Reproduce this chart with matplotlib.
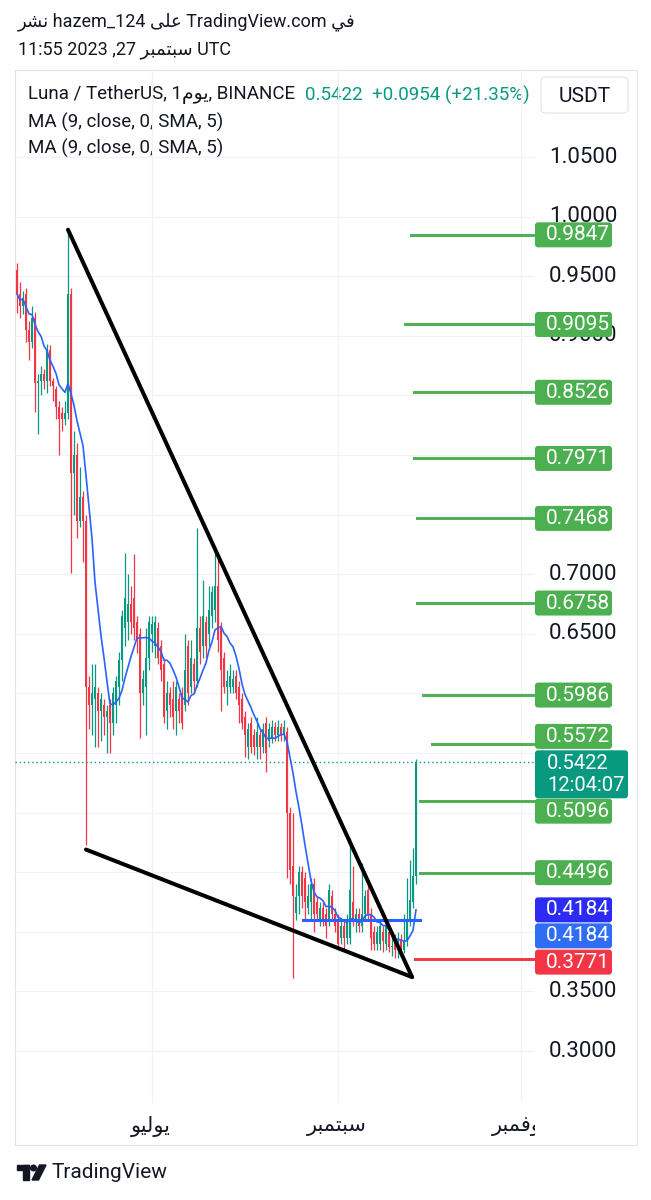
import numpy as np
import pandas as pd
import matplotlib
matplotlib.use("Agg")
import matplotlib.pyplot as plt
from matplotlib.patches import Rectangle, FancyBboxPatch, Polygon, Circle

plt.rcParams['font.family'] = ['Roboto', 'DejaVu Sans']

# LUNA / USDT daily candles (Binance), 17 May - 27 Sep 2023
dates = pd.date_range("2023-05-17", "2023-09-27", freq="D")
opens = [0.955, 0.935, 0.925, 0.935, 0.905, 0.895, 0.915, 0.860, 0.862, 0.868,
         0.862, 0.888, 0.862, 0.855, 0.840, 0.835, 0.830, 0.835, 0.935, 0.785,
         0.800, 0.745, 0.765, 0.745, 0.605, 0.590, 0.595, 0.600, 0.585, 0.590,
         0.580, 0.590, 0.575, 0.590, 0.605, 0.628, 0.655, 0.660, 0.675, 0.680,
         0.660, 0.650, 0.600, 0.605, 0.630, 0.650, 0.640, 0.655, 0.640, 0.625,
         0.585, 0.600, 0.595, 0.585, 0.595, 0.600, 0.590, 0.640, 0.605, 0.625,
         0.610, 0.655, 0.640, 0.660, 0.650, 0.665, 0.670, 0.690, 0.655, 0.630,
         0.605, 0.605, 0.605, 0.615, 0.605, 0.595, 0.580, 0.555, 0.575, 0.565,
         0.555, 0.565, 0.555, 0.575, 0.560, 0.562, 0.572, 0.565, 0.572, 0.565,
         0.568, 0.500, 0.455, 0.416, 0.430, 0.450, 0.445, 0.420, 0.425, 0.440,
         0.425, 0.410, 0.420, 0.415, 0.410, 0.430, 0.415, 0.410, 0.395, 0.405,
         0.395, 0.395, 0.425, 0.410, 0.415, 0.405, 0.415, 0.435, 0.415, 0.400,
         0.390, 0.390, 0.400, 0.390, 0.400, 0.387, 0.392, 0.385, 0.392, 0.385,
         0.392, 0.410, 0.425, 0.4468]
highs = [0.961, 0.945, 0.938, 0.940, 0.912, 0.925, 0.920, 0.868, 0.875, 0.872,
         0.893, 0.892, 0.865, 0.858, 0.845, 0.840, 0.845, 0.989, 0.940, 0.820,
         0.810, 0.790, 0.770, 0.750, 0.615, 0.625, 0.625, 0.605, 0.600, 0.595,
         0.590, 0.595, 0.605, 0.615, 0.635, 0.670, 0.718, 0.700, 0.690, 0.717,
         0.665, 0.655, 0.620, 0.655, 0.665, 0.665, 0.665, 0.660, 0.645, 0.630,
         0.610, 0.605, 0.610, 0.610, 0.600, 0.605, 0.650, 0.645, 0.645, 0.630,
         0.739, 0.665, 0.695, 0.665, 0.690, 0.690, 0.720, 0.718, 0.660, 0.635,
         0.620, 0.625, 0.620, 0.620, 0.610, 0.600, 0.585, 0.575, 0.580, 0.570,
         0.580, 0.570, 0.575, 0.580, 0.575, 0.578, 0.576, 0.578, 0.575, 0.578,
         0.572, 0.505, 0.500, 0.440, 0.455, 0.455, 0.450, 0.440, 0.445, 0.445,
         0.430, 0.425, 0.425, 0.420, 0.440, 0.435, 0.420, 0.415, 0.410, 0.410,
         0.415, 0.479, 0.455, 0.420, 0.420, 0.458, 0.435, 0.440, 0.420, 0.405,
         0.405, 0.410, 0.405, 0.410, 0.405, 0.400, 0.398, 0.400, 0.398, 0.415,
         0.445, 0.460, 0.470, 0.545]
lows = [0.919, 0.915, 0.918, 0.895, 0.880, 0.890, 0.836, 0.818, 0.850, 0.855,
        0.852, 0.858, 0.845, 0.830, 0.800, 0.820, 0.825, 0.830, 0.701, 0.750,
        0.730, 0.740, 0.710, 0.473, 0.570, 0.565, 0.555, 0.555, 0.560, 0.565,
        0.550, 0.550, 0.565, 0.575, 0.590, 0.610, 0.640, 0.645, 0.650, 0.645,
        0.634, 0.563, 0.590, 0.565, 0.620, 0.635, 0.630, 0.625, 0.610, 0.575,
        0.570, 0.580, 0.570, 0.565, 0.575, 0.570, 0.585, 0.590, 0.600, 0.600,
        0.605, 0.625, 0.630, 0.630, 0.640, 0.655, 0.660, 0.635, 0.585, 0.600,
        0.590, 0.600, 0.600, 0.595, 0.575, 0.570, 0.547, 0.545, 0.550, 0.548,
        0.545, 0.545, 0.550, 0.534, 0.555, 0.558, 0.560, 0.560, 0.560, 0.560,
        0.445, 0.440, 0.361, 0.410, 0.415, 0.420, 0.410, 0.415, 0.410, 0.400,
        0.410, 0.405, 0.405, 0.395, 0.405, 0.410, 0.400, 0.385, 0.390, 0.385,
        0.390, 0.390, 0.405, 0.400, 0.400, 0.400, 0.410, 0.410, 0.385, 0.385,
        0.385, 0.385, 0.383, 0.385, 0.383, 0.380, 0.378, 0.378, 0.380, 0.382,
        0.388, 0.405, 0.420, 0.440]
closes = [0.935, 0.925, 0.932, 0.905, 0.895, 0.915, 0.860, 0.862, 0.868, 0.862,
          0.888, 0.862, 0.858, 0.840, 0.830, 0.830, 0.835, 0.935, 0.785, 0.800,
          0.745, 0.765, 0.745, 0.605, 0.590, 0.600, 0.605, 0.585, 0.595, 0.580,
          0.585, 0.575, 0.600, 0.610, 0.628, 0.665, 0.680, 0.675, 0.660, 0.655,
          0.645, 0.600, 0.612, 0.630, 0.660, 0.658, 0.660, 0.630, 0.620, 0.580,
          0.600, 0.590, 0.580, 0.605, 0.585, 0.575, 0.620, 0.600, 0.630, 0.610,
          0.655, 0.635, 0.665, 0.640, 0.670, 0.685, 0.690, 0.645, 0.620, 0.605,
          0.610, 0.615, 0.612, 0.600, 0.590, 0.575, 0.565, 0.570, 0.555, 0.555,
          0.568, 0.555, 0.570, 0.550, 0.570, 0.572, 0.565, 0.572, 0.566, 0.572,
          0.500, 0.452, 0.430, 0.429, 0.450, 0.430, 0.425, 0.430, 0.440, 0.415,
          0.415, 0.420, 0.410, 0.405, 0.435, 0.415, 0.405, 0.390, 0.405, 0.395,
          0.410, 0.435, 0.410, 0.415, 0.405, 0.415, 0.430, 0.415, 0.395, 0.390,
          0.400, 0.405, 0.392, 0.405, 0.387, 0.388, 0.385, 0.390, 0.385, 0.3916,
          0.410, 0.427, 0.4468, 0.5422]
ma_length = 9

# drawn levels: green targets, red stop, blue base line
target_levels = [0.9847, 0.9095, 0.8526, 0.7971, 0.7468, 0.6758, 0.5986, 0.5572, 0.5096, 0.4496]
target_starts = [131.3, 129.3, 132.3, 132.3, 133.3, 133.3, 135.3, 138.3, 134.3, 134.3]
stop_level, stop_start = 0.3771, 132.7
base_level, base_span = 0.410, (95.3, 134.3)
# falling wedge (day index, price)
upper_line = [(17, 0.989), (131.7, 0.362)]
lower_line = [(23, 0.469), (131.7, 0.362)]

grid_prices = np.arange(0.30, 1.06, 0.05)
axis_labels = [1.05, 1.00, 0.95, 0.90, 0.70, 0.65, 0.35, 0.30]
month_starts = ["2023-07-01", "2023-09-01", "2023-11-01"]
# Arabic month names written in shaped (presentation-form) visual order
month_names = ["ﻮﻴﻟﻮﻳ", "ﺮﺒﻤﺘﺒﺳ", "ﺮﺒﻤﻓﻮﻧ"]

UP, DOWN = '#089981', '#f23645'
TXT = '#131722'
GREEN = '#4caf50'

# ---- layout (pixels of the 651x1200 screenshot) ----
W, H = 651, 1200
PL, PR, PT, PB = 15, 535, 70, 1103
PX_PER_PRICE = 1192.0
y_top = 1.05 + (157 - PT) / PX_PER_PRICE
y_bot = 1.05 - (PB - 157) / PX_PER_PRICE
x_lo, x_hi = (PL - 17) / 3.0, (PR - 17) / 3.0

fig = plt.figure(figsize=(W / 100, H / 100), dpi=100)
fig.patch.set_facecolor('white')

bg = fig.add_axes([0, 0, 1, 1])
bg.set_xlim(0, W)
bg.set_ylim(H, 0)
bg.axis('off')

ax = fig.add_axes([PL / W, 1 - PB / H, (PR - PL) / W, (PB - PT) / H])
ax.set_facecolor('none')
ax.set_xlim(x_lo, x_hi)
ax.set_ylim(y_bot, y_top)
for s in ax.spines.values():
    s.set_visible(False)
ax.set_xticks([])
ax.set_yticks([])

axp = fig.add_axes([PR / W, 1 - PB / H, (637 - PR) / W, (PB - PT) / H])
axp.set_xlim(0, 637 - PR)
axp.set_ylim(y_bot, y_top)
axp.axis('off')

axt = fig.add_axes([PL / W, 1 - 1145 / H, (PR - PL) / W, (1145 - PB) / H])
axt.set_xlim(x_lo, x_hi)
axt.set_ylim(0, 1)
axt.axis('off')

# panel frame and header
bg.add_patch(Rectangle((PL, PT), 637 - PL, 1145 - PT, fill=False, ec='#e0e3eb', lw=0.8))
bg.text(18, 22, "ﺮﺸﻧ hazem_124 ﻰﻠﻋ TradingView.com ﻲﻓ", fontsize=13, color=TXT, va='center')
bg.text(18, 50, "11:55 2023 ,27 ﺮﺒﻤﺘﺒﺳ UTC", fontsize=13, color=TXT, va='center')
bg.text(28, 95, "Luna / TetherUS, 1ﻡﻮﻳ, BINANCE", fontsize=13.5, color=TXT, va='center')
bg.text(305, 95, "0.5422  +0.0954 (+21.35%)", fontsize=13.5, color=UP, va='center')
bg.text(28, 122, "MA (9, close, 0, SMA, 5)", fontsize=13.5, color=TXT, va='center')
bg.text(28, 148, "MA (9, close, 0, SMA, 5)", fontsize=13.5, color=TXT, va='center')
bg.add_patch(FancyBboxPatch((541, 77), 87, 36, boxstyle="round,pad=0,rounding_size=5",
                            fc='white', ec='#e0e3eb', lw=0.8, zorder=3))
bg.text(584.5, 96, "USDT", fontsize=15, color=TXT, ha='center', va='center', zorder=4)

# TradingView logo
bg.add_patch(Rectangle((17, 1165), 12, 5, color=TXT))
bg.add_patch(Rectangle((23, 1165), 6, 15, color=TXT))
bg.add_patch(Circle((33.5, 1168), 2.8, color=TXT))
bg.add_patch(Polygon([(32, 1180), (38.5, 1180), (46, 1165), (39.5, 1165)], closed=True, color=TXT))
bg.text(51, 1173, "TradingView", fontsize=15, color=TXT, va='center')

# grid
idx = np.arange(len(dates))
month_idx = [(pd.Timestamp(d) - dates[0]).days for d in month_starts]
for p in grid_prices:
    ax.axhline(p, color='#f0f2f6', lw=0.9, zorder=0)
for m in month_idx:
    ax.axvline(m, color='#f0f2f6', lw=0.9, zorder=0)

# candles
o = np.array(opens); h = np.array(highs); l = np.array(lows); c = np.array(closes)
colors = np.where(c >= o, UP, DOWN)
ax.vlines(idx, l, h, colors=colors, lw=0.9, zorder=2)
body = np.maximum(np.abs(c - o), 0.0015)
ax.bar(idx, body, bottom=np.minimum(o, c), width=0.66, color=colors, lw=0, zorder=2)

# moving average
ma = pd.Series(closes).rolling(ma_length, min_periods=1).mean()
ax.plot(idx, ma, color='#2962ff', lw=1.2, zorder=3)

# current price dotted line
ax.axhline(closes[-1], color=UP, lw=1, ls=(0, (1, 2)), zorder=1)

# wedge lines
for line in (upper_line, lower_line):
    xs, ys = zip(*line)
    ax.plot(xs, ys, color='black', lw=2.9, solid_capstyle='round', zorder=4)

# levels
for lv, st in zip(target_levels, target_starts):
    ax.plot([st, x_hi], [lv, lv], color=GREEN, lw=2.1, zorder=3, clip_on=False)
ax.plot([stop_start, x_hi], [stop_level, stop_level], color=DOWN, lw=2.1, zorder=3, clip_on=False)
ax.plot(base_span, [base_level, base_level], color='#2962ff', lw=2.2, zorder=3)

# price scale
for p in axis_labels:
    axp.text(48, p, f"{p:.4f}", fontsize=16, color=TXT, ha='center', va='center', zorder=1)


def tag(value, text, color, shift_px=0.0, width=77, height=25):
    yc = value - shift_px / PX_PER_PRICE
    hh = height / PX_PER_PRICE
    axp.add_patch(FancyBboxPatch((0, yc - hh / 2), width, hh,
                                 boxstyle="round,pad=0,rounding_size=3",
                                 mutation_aspect=1 / PX_PER_PRICE,
                                 fc=color, ec='none', zorder=5))
    axp.text(43, yc, text, fontsize=15, color='white', ha='center', va='center', zorder=6)


tag_shift = {0.5572: -8, 0.5096: 10}
for lv in target_levels:
    tag(lv, f"{lv:.4f}", GREEN, tag_shift.get(lv, 0))
ma_last = ma.iloc[-1]
tag(ma_last, f"{ma_last:.4f}", '#2b2bf5', 0)
tag(ma_last, f"{ma_last:.4f}", '#2f6df6', 26)
tag(stop_level, f"{stop_level:.4f}", DOWN, 3)

# current price tag (two lines)
cur = closes[-1]
yc = cur - 12 / PX_PER_PRICE
hh = 48 / PX_PER_PRICE
axp.add_patch(FancyBboxPatch((0, yc - hh / 2), 93, hh, boxstyle="round,pad=0,rounding_size=3",
                             mutation_aspect=1 / PX_PER_PRICE, fc=UP, ec='none', zorder=7))
axp.text(12, yc + 11 / PX_PER_PRICE, f"{cur:.4f}", fontsize=14.5, color='white', va='center', zorder=8)
axp.text(12, yc - 11 / PX_PER_PRICE, "12:04:07", fontsize=14.5, color='white', va='center', zorder=8)

# time scale (last label is cut by the price scale, as on the screenshot)
for m, name in zip(month_idx, month_names):
    axt.text(m - 0.4, 0.45, name, fontsize=15, color=TXT, ha='center', va='center', clip_on=True)

fig.savefig("out.png", dpi=100, facecolor='white')
